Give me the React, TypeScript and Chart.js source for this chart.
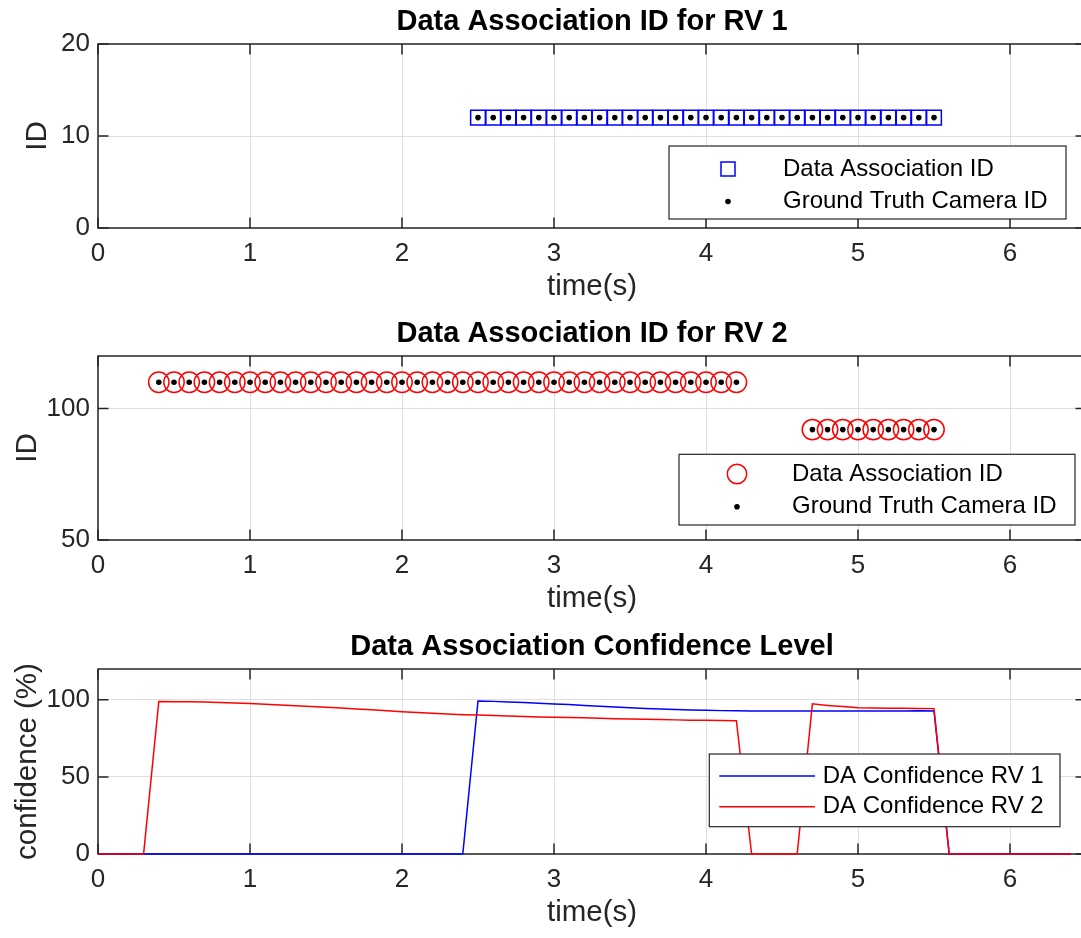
import React, { useEffect, useRef } from "react";
import { Chart, registerables } from "chart.js";

Chart.register(...registerables);

// ---------------- DATA ----------------
// Subplot 1: RV 1 data association
const rv1Time = [
  2.5, 2.6, 2.7, 2.8, 2.9, 3.0, 3.1, 3.2, 3.3, 3.4, 3.5, 3.6, 3.7, 3.8, 3.9, 4.0,
  4.1, 4.2, 4.3, 4.4, 4.5, 4.6, 4.7, 4.8, 4.9, 5.0, 5.1, 5.2, 5.3, 5.4, 5.5,
];
const rv1DaId = [
  12, 12, 12, 12, 12, 12, 12, 12, 12, 12, 12, 12, 12, 12, 12, 12,
  12, 12, 12, 12, 12, 12, 12, 12, 12, 12, 12, 12, 12, 12, 12,
];
const rv1TruthId = [
  12, 12, 12, 12, 12, 12, 12, 12, 12, 12, 12, 12, 12, 12, 12, 12,
  12, 12, 12, 12, 12, 12, 12, 12, 12, 12, 12, 12, 12, 12, 12,
];

// Subplot 2: RV 2 data association
const rv2Time = [
  0.4, 0.5, 0.6, 0.7, 0.8, 0.9, 1.0, 1.1, 1.2, 1.3, 1.4, 1.5, 1.6, 1.7, 1.8, 1.9,
  2.0, 2.1, 2.2, 2.3, 2.4, 2.5, 2.6, 2.7, 2.8, 2.9, 3.0, 3.1, 3.2, 3.3, 3.4, 3.5,
  3.6, 3.7, 3.8, 3.9, 4.0, 4.1, 4.2,
  4.7, 4.8, 4.9, 5.0, 5.1, 5.2, 5.3, 5.4, 5.5,
];
const rv2DaId = [
  110, 110, 110, 110, 110, 110, 110, 110, 110, 110, 110, 110, 110, 110, 110, 110,
  110, 110, 110, 110, 110, 110, 110, 110, 110, 110, 110, 110, 110, 110, 110, 110,
  110, 110, 110, 110, 110, 110, 110,
  92, 92, 92, 92, 92, 92, 92, 92, 92,
];
const rv2TruthId = [
  110, 110, 110, 110, 110, 110, 110, 110, 110, 110, 110, 110, 110, 110, 110, 110,
  110, 110, 110, 110, 110, 110, 110, 110, 110, 110, 110, 110, 110, 110, 110, 110,
  110, 110, 110, 110, 110, 110, 110,
  92, 92, 92, 92, 92, 92, 92, 92, 92,
];

// Subplot 3: confidence levels
const confTime = [
  0, 0.1, 0.2, 0.3, 0.4, 0.5, 0.6, 0.7, 0.8, 0.9, 1.0, 1.1, 1.2, 1.3, 1.4, 1.5,
  1.6, 1.7, 1.8, 1.9, 2.0, 2.1, 2.2, 2.3, 2.4, 2.5, 2.6, 2.7, 2.8, 2.9, 3.0, 3.1,
  3.2, 3.3, 3.4, 3.5, 3.6, 3.7, 3.8, 3.9, 4.0, 4.1, 4.2, 4.3, 4.4, 4.5, 4.6, 4.7,
  4.8, 4.9, 5.0, 5.1, 5.2, 5.3, 5.4, 5.5, 5.6, 5.7, 5.8, 5.9, 6.0, 6.1, 6.2, 6.3,
  6.4,
];
const confRv1 = [
  0, 0, 0, 0, 0, 0, 0, 0, 0, 0, 0, 0, 0, 0, 0, 0,
  0, 0, 0, 0, 0, 0, 0, 0, 0, 99.3, 99.0, 98.6, 98.2, 97.8, 97.3, 96.9,
  96.4, 95.9, 95.4, 94.9, 94.4, 94.0, 93.7, 93.4, 93.2, 93.0, 92.9, 92.8, 92.8, 92.7, 92.7, 92.7,
  92.7, 92.7, 92.7, 92.7, 92.7, 92.8, 92.9, 92.7, 0, 0, 0, 0, 0, 0, 0, 0,
  0,
];
const confRv2 = [
  0, 0, 0, 0, 98.9, 98.8, 98.7, 98.6, 98.3, 98.0, 97.6, 97.2, 96.7, 96.2, 95.7, 95.2,
  94.7, 94.1, 93.5, 92.9, 92.3, 91.8, 91.3, 90.8, 90.4, 90.1, 89.8, 89.5, 89.2, 88.9, 88.7, 88.5,
  88.3, 88.0, 87.8, 87.6, 87.4, 87.2, 87.0, 86.8, 86.7, 86.6, 86.5, 0, 0, 0, 0, 97.4,
  96.4, 95.6, 94.9, 94.7, 94.6, 94.5, 94.4, 94.3, 0, 0, 0, 0, 0, 0, 0, 0,
  0,
];

const xTickStep = 1;
const xMin = 0;
const xMax = 6.5;

// ---------------- STYLE ----------------
const FONT = '"Liberation Sans", Arial, Helvetica, sans-serif';
const AXIS = "#262626";
const GRID = "#dfdfdf";
const BLUE = "#0000ff";
const RED = "#ff0000";
const CANVAS_W = 1100;
const TICK_LEN = 10.5;

type LegendItem = { kind: "rect" | "circle" | "dot" | "line"; color: string; text: string };
type LegendSpec = {
  box: [number, number, number, number];
  markerX: number;
  lineX?: [number, number];
  textX: number;
  rows: number[];
  items: LegendItem[];
};

const framePlugin = {
  id: "matlabFrame",
  beforeDatasetsDraw(chart: any) {
    const { ctx, chartArea } = chart;
    const { left, right, top, bottom } = chartArea;
    const xs = chart.scales.x;
    const ys = chart.scales.y;
    ctx.save();
    ctx.strokeStyle = AXIS;
    ctx.lineWidth = 1.5;
    ctx.strokeRect(left, top, right - left, bottom - top);
    ctx.beginPath();
    xs.ticks.forEach((t: any) => {
      const px = xs.getPixelForValue(t.value);
      ctx.moveTo(px, bottom);
      ctx.lineTo(px, bottom - TICK_LEN);
      ctx.moveTo(px, top);
      ctx.lineTo(px, top + TICK_LEN);
    });
    ys.ticks.forEach((t: any) => {
      const py = ys.getPixelForValue(t.value);
      ctx.moveTo(left, py);
      ctx.lineTo(left + TICK_LEN, py);
      ctx.moveTo(right, py);
      ctx.lineTo(right - TICK_LEN, py);
    });
    ctx.stroke();
    ctx.restore();
  },
  afterDraw(chart: any, _args: any, opts: any) {
    const { ctx } = chart;
    const lg: LegendSpec | undefined = opts && opts.legend;
    if (!lg) return;
    ctx.save();
    const [x1, y1, x2, y2] = lg.box;
    ctx.fillStyle = "#ffffff";
    ctx.fillRect(x1, y1, x2 - x1, y2 - y1);
    ctx.strokeStyle = AXIS;
    ctx.lineWidth = 1.2;
    ctx.strokeRect(x1, y1, x2 - x1, y2 - y1);
    lg.items.forEach((it, i) => {
      const y = lg.rows[i];
      ctx.save();
      if (it.kind === "rect") {
        ctx.strokeStyle = it.color;
        ctx.lineWidth = 1.5;
        ctx.strokeRect(lg.markerX - 7, y - 7, 14, 14);
      } else if (it.kind === "circle") {
        ctx.strokeStyle = it.color;
        ctx.lineWidth = 1.5;
        ctx.beginPath();
        ctx.arc(lg.markerX, y, 9.7, 0, Math.PI * 2);
        ctx.stroke();
      } else if (it.kind === "dot") {
        ctx.fillStyle = it.color;
        ctx.beginPath();
        ctx.arc(lg.markerX, y, 2.8, 0, Math.PI * 2);
        ctx.fill();
      } else if (it.kind === "line" && lg.lineX) {
        ctx.strokeStyle = it.color;
        ctx.lineWidth = 1.5;
        ctx.beginPath();
        ctx.moveTo(lg.lineX[0], y);
        ctx.lineTo(lg.lineX[1], y);
        ctx.stroke();
      }
      ctx.restore();
      ctx.fillStyle = "#000000";
      ctx.font = `24px ${FONT}`;
      ctx.textAlign = "left";
      ctx.textBaseline = "middle";
      ctx.fillText(it.text, lg.textX, y);
    });
    ctx.restore();
  },
};

function buildScales(
  yMin: number,
  yMax: number,
  yStep: number,
  yTitle: string,
  yTitlePad: number
) {
  return {
    x: {
      type: "linear",
      min: xMin,
      max: xMax,
      ticks: {
        stepSize: xTickStep,
        includeBounds: false,
        padding: 10.7,
        color: AXIS,
        maxRotation: 0,
        autoSkip: false,
        font: { family: FONT, size: 26 },
      },
      grid: { color: GRID, lineWidth: 1, drawTicks: false },
      border: { display: false },
      title: {
        display: true,
        text: "time(s)",
        color: AXIS,
        font: { family: FONT, size: 29.5 },
        padding: { top: 0, bottom: 7.3 },
      },
      afterFit: (s: any) => {
        s.height = 84;
      },
    },
    y: {
      type: "linear",
      min: yMin,
      max: yMax,
      ticks: {
        stepSize: yStep,
        includeBounds: false,
        padding: 8,
        color: AXIS,
        font: { family: FONT, size: 26 },
      },
      grid: { color: GRID, lineWidth: 1, drawTicks: false },
      border: { display: false },
      title: {
        display: true,
        text: yTitle,
        color: AXIS,
        font: { family: FONT, size: 29.5 },
        padding: { top: yTitlePad, bottom: 0 },
      },
      afterFit: (s: any) => {
        s.width = 98;
      },
    },
  };
}

function buildPlugins(title: string, legend: LegendSpec) {
  return {
    title: {
      display: true,
      fullSize: false,
      text: title,
      color: "#000000",
      font: { family: FONT, size: 29, weight: "bold" },
      padding: { top: 4.2, bottom: 5 },
    },
    legend: { display: false },
    tooltip: { enabled: false },
    matlabFrame: { legend },
  };
}

function zip(xs: number[], ys: number[]) {
  return xs.map((x, i) => ({ x, y: ys[i] }));
}

const baseOptions = {
  animation: false,
  responsive: false,
  devicePixelRatio: 1,
  events: [],
  layout: { padding: { left: 0, top: 0, bottom: 0, right: 14 } },
};

function config1() {
  return {
    type: "scatter",
    data: {
      datasets: [
        {
          label: "Data Association ID",
          data: zip(rv1Time, rv1DaId),
          pointStyle: "rect",
          pointRadius: 10.4,
          borderColor: BLUE,
          backgroundColor: "rgba(0,0,0,0)",
          borderWidth: 1.5,
          clip: false,
          order: 2,
        },
        {
          label: "Ground Truth Camera ID",
          data: zip(rv1Time, rv1TruthId),
          pointStyle: "circle",
          pointRadius: 2.8,
          borderWidth: 0,
          backgroundColor: "#000000",
          borderColor: "#000000",
          clip: false,
          order: 1,
        },
      ],
    },
    options: {
      ...baseOptions,
      scales: buildScales(0, 20, 10, "ID", 20),
      plugins: buildPlugins("Data Association ID for RV 1", {
        box: [669, 146, 1066, 219],
        markerX: 728,
        textX: 783,
        rows: [169, 201.5],
        items: [
          { kind: "rect", color: BLUE, text: "Data Association ID" },
          { kind: "dot", color: "#000000", text: "Ground Truth Camera ID" },
        ],
      }),
    },
    plugins: [framePlugin],
  };
}

function config2() {
  return {
    type: "scatter",
    data: {
      datasets: [
        {
          label: "Data Association ID",
          data: zip(rv2Time, rv2DaId),
          pointStyle: "circle",
          pointRadius: 10.2,
          borderColor: RED,
          backgroundColor: "rgba(0,0,0,0)",
          borderWidth: 1.5,
          clip: false,
          order: 2,
        },
        {
          label: "Ground Truth Camera ID",
          data: zip(rv2Time, rv2TruthId),
          pointStyle: "circle",
          pointRadius: 2.8,
          borderWidth: 0,
          backgroundColor: "#000000",
          borderColor: "#000000",
          clip: false,
          order: 1,
        },
      ],
    },
    options: {
      ...baseOptions,
      scales: buildScales(50, 120, 50, "ID", 10.3),
      plugins: buildPlugins("Data Association ID for RV 2", {
        box: [679, 142.3, 1075, 213],
        markerX: 737,
        textX: 792,
        rows: [162, 194.7],
        items: [
          { kind: "circle", color: RED, text: "Data Association ID" },
          { kind: "dot", color: "#000000", text: "Ground Truth Camera ID" },
        ],
      }),
    },
    plugins: [framePlugin],
  };
}

function config3() {
  return {
    type: "scatter",
    data: {
      datasets: [
        {
          label: "DA Confidence RV 1",
          data: zip(confTime, confRv1),
          showLine: true,
          pointRadius: 0,
          borderColor: BLUE,
          backgroundColor: BLUE,
          borderWidth: 1.5,
          tension: 0,
          clip: false,
          order: 2,
        },
        {
          label: "DA Confidence RV 2",
          data: zip(confTime, confRv2),
          showLine: true,
          pointRadius: 0,
          borderColor: RED,
          backgroundColor: RED,
          borderWidth: 1.5,
          tension: 0,
          clip: false,
          order: 1,
        },
      ],
    },
    options: {
      ...baseOptions,
      scales: buildScales(0, 120, 50, "confidence (%)", 10.3),
      plugins: buildPlugins("Data Association Confidence Level", {
        box: [709.3, 129, 1060, 201.7],
        markerX: 0,
        lineX: [719.3, 815],
        textX: 822.7,
        rows: [151, 181.7],
        items: [
          { kind: "line", color: BLUE, text: "DA Confidence RV 1" },
          { kind: "line", color: RED, text: "DA Confidence RV 2" },
        ],
      }),
    },
    plugins: [framePlugin],
  };
}

function Panel({ top, height, make }: { top: number; height: number; make: () => any }) {
  const ref = useRef<HTMLCanvasElement>(null);
  useEffect(() => {
    if (!ref.current) return;
    const chart = new Chart(ref.current, make());
    return () => chart.destroy();
  }, []);
  return (
    <div style={{ position: "absolute", left: 0, top, width: CANVAS_W, height }}>
      <canvas
        ref={ref}
        width={CANVAS_W}
        height={height}
        style={{ display: "block", width: CANVAS_W, height }}
      />
    </div>
  );
}

export default function App() {
  return (
    <div
      style={{
        position: "fixed",
        left: 0,
        top: 0,
        width: 1081,
        height: 938,
        overflow: "hidden",
        background: "#ffffff",
      }}
    >
      <Panel top={0} height={312} make={config1} />
      <Panel top={312} height={312} make={config2} />
      <Panel top={625} height={313} make={config3} />
    </div>
  );
}
